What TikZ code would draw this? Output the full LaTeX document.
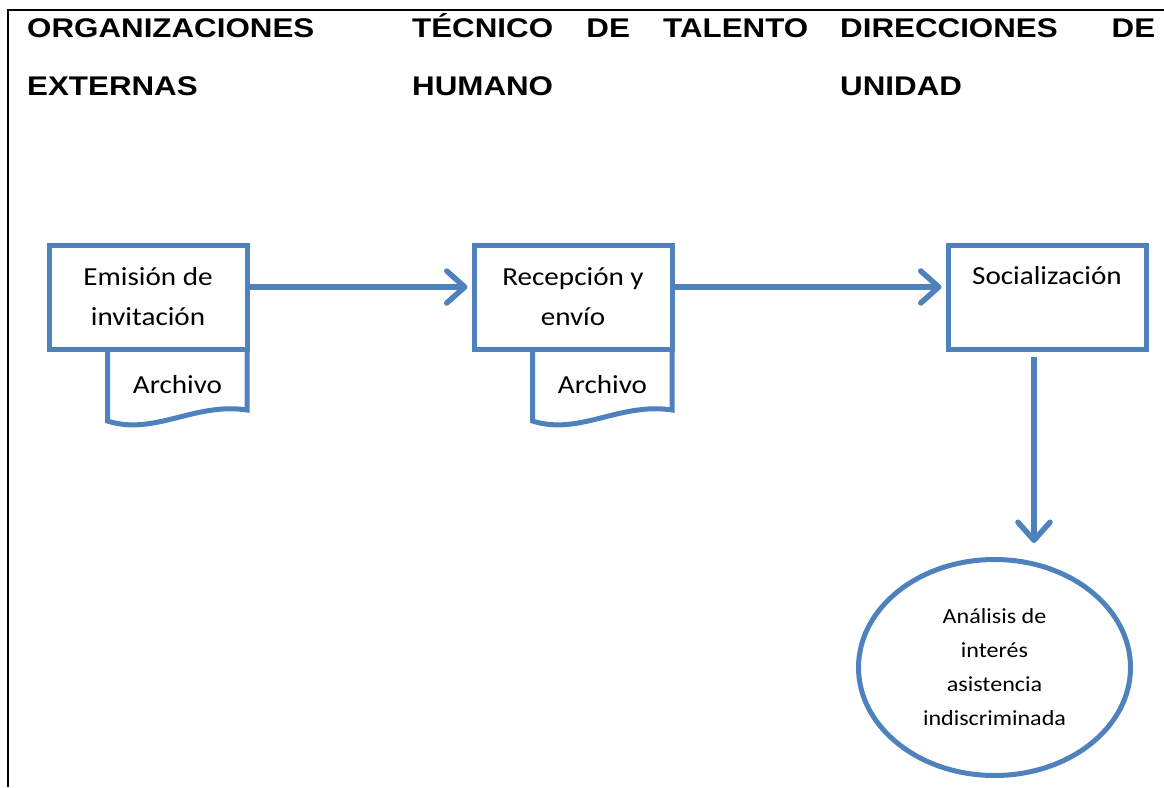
\documentclass[tikz,border=0pt]{standalone}
\usepackage{fontspec}
\setmainfont{Carlito}[FakeStretch=1.12]
\newfontfamily\headfont{Liberation Sans}[FakeStretch=1.16]
\usepackage{tikz}
\usetikzlibrary{positioning,shapes.geometric,arrows.meta}

\definecolor{ofblue}{RGB}{79,129,189}

\tikzset{
    head/.style={anchor=base west, inner sep=0pt, align=left,
        font=\headfont\bfseries\fontsize{27}{57.7}\selectfont},
    proc/.style={draw=ofblue, line width=5pt, minimum width=198pt,
        minimum height=104pt, inner sep=0pt},
    proctext/.style={anchor=base, inner sep=0pt, align=flush center,
        text width=190pt, font=\fontsize{26}{40}\selectfont},
    doc/.style={draw=ofblue, line width=5pt},
    flow/.style={draw=ofblue, line width=5.5pt,
        -{Straight Barb[length=18pt,width=32pt,round]}}
}

% document symbol hanging under a process box
\newcommand{\archivo}[2]{%
    \draw[doc, shift={(#1.south east)}] (-142,2.5) -- (-142,-69)
        .. controls (-95,-84) and (-55,-50) .. (-2.5,-58) -- (-2.5,2.5);
    \node[proctext] (#2) at ([xshift=-72pt,yshift=-41pt]#1.south east) {Archivo};
}

\begin{document}
\begin{tikzpicture}[x=1pt, y=1pt]
    \useasboundingbox (0,0) rectangle (1164,-787);

    % frame and column headings
    \draw[line width=2pt] (1164,-10) -- (8,-10) -- (8,-787);
    \node[head, text width=380pt] (orgs) at (27,-37.5) {ORGANIZACIONES\\EXTERNAS};
    \node[head, text width=396pt] (tecnico) at (412,-37.5)
        {\hbox to 396pt{TÉCNICO\hfill DE\hfill TALENTO}\\HUMANO};
    \node[head, text width=315pt] (direcciones) at (840,-37.5)
        {\hbox to 315pt{DIRECCIONES\hfill DE}\\UNIDAD};

    % process boxes
    \node[proc] (emision) at (148,-297.5) {};
    \node[proc, right=222pt of emision] (recepcion) {};
    \node[proc, right=271pt of recepcion] (social) {};
    \node[proctext] (emisiontxt) at ([yshift=-42pt]emision.north) {Emisión de\\invitación};
    \node[proctext] (recepciontxt) at ([yshift=-42pt]recepcion.north) {Recepción y\\envío};
    \node[proctext] (socialtxt) at ([yshift=-41pt]social.north) {Socialización};

    \archivo{emision}{archivoA}
    \archivo{recepcion}{archivoB}

    \node[ellipse, draw=ofblue, line width=5pt, minimum width=272pt,
        minimum height=216pt, inner sep=0pt, align=center,
        font=\fontsize{21.5}{34}\selectfont] (analisis) at (994.5,-667.5)
        {Análisis de\\interés\\asistencia\\indiscriminada};

    % flow
    \draw[flow, shorten >=4pt] ([yshift=10.5pt]emision.east) -- ([yshift=10.5pt]recepcion.west);
    \draw[flow, shorten >=4pt] ([yshift=10.5pt]recepcion.east) -- ([yshift=10.5pt]social.west);
    \coordinate (drop) at ([xshift=-13pt]social.south);
    \draw[flow, shorten <=5pt, shorten >=14pt] (drop) -- (drop |- analisis.north);
\end{tikzpicture}
\end{document}
